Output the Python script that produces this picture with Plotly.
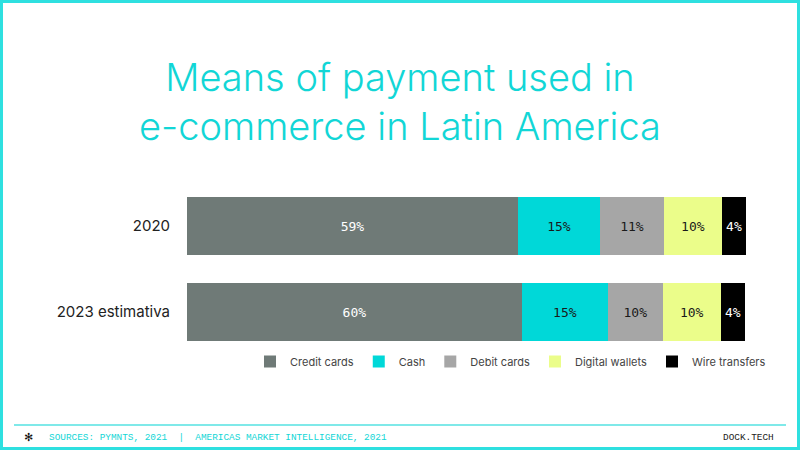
import plotly.graph_objects as go

categories = ["2020", "2023 estimativa"]
series_names = ["Credit cards", "Cash", "Debit cards", "Digital wallets", "Wire transfers"]
credit_cards = [59.2, 59.9]
cash = [14.7, 15.4]
debit_cards = [11.4, 9.8]
digital_wallets = [10.4, 10.4]
wire_transfers = [4.3, 4.3]
series_values = [credit_cards, cash, debit_cards, digital_wallets, wire_transfers]

colors = ["#6f7a77", "#00d8d8", "#a6a6a6", "#ebfd8a", "#000000"]
text_colors = ["#ffffff", "#1a1a1a", "#1a1a1a", "#1a1a1a", "#ffffff"]

W, H = 800, 450
L, R, T, B = 187, 54, 183, 95
PW, PH = W - L - R, H - T - B

def px(x):
    return (x - L) / PW

def py(y):
    return (H - B - y) / PH

fig = go.Figure()
for name, vals, c, tc in zip(series_names, series_values, colors, text_colors):
    fig.add_trace(go.Bar(
        y=categories, x=vals, name=name, orientation="h",
        marker=dict(color=c, line=dict(width=0)),
        texttemplate="%{x:.0f}%", textposition="inside", insidetextanchor="middle",
        textfont=dict(family="DejaVu Sans Mono", size=13, color=tc),
        constraintext="none", hoverinfo="skip",
    ))

CYAN = "#12d6d6"
fig.update_layout(
    width=W, height=H,
    margin=dict(l=L, r=R, t=T, b=B),
    paper_bgcolor="white", plot_bgcolor="white",
    barmode="stack", bargap=0.326,
    showlegend=True,
    legend=dict(orientation="h", x=px(250), xanchor="left", y=py(347), yanchor="top",
                font=dict(family="Inter", size=11, color="#444444"),
                traceorder="normal", itemclick=False),
    xaxis=dict(range=[0, sum(v[0] for v in series_values)], visible=False, fixedrange=True),
    yaxis=dict(autorange="reversed", showgrid=False, zeroline=False, showline=False,
               ticks="", ticklabelstandoff=16,
               tickfont=dict(family="Inter", size=15, color="#222222")),
    font=dict(family="Inter"),
)

fig.add_annotation(
    text="Means of payment used in<br>e-commerce in Latin America",
    xref="paper", yref="paper", x=px(400), y=py(101), xanchor="center", yanchor="middle",
    showarrow=False, align="center",
    font=dict(family="Inter", size=38, color=CYAN, weight=300),
)
fig.add_annotation(
    text="SOURCES: PYMNTS, 2021  |  AMERICAS MARKET INTELLIGENCE, 2021",
    xref="paper", yref="paper", x=px(47), y=py(437), xanchor="left", yanchor="middle",
    showarrow=False, font=dict(family="Liberation Mono", size=9.4, color=CYAN),
)
fig.add_annotation(
    text="DOCK.TECH",
    xref="paper", yref="paper", x=px(776), y=py(437), xanchor="right", yanchor="middle",
    showarrow=False, font=dict(family="Liberation Mono", size=9.4, color="#222222"),
)
fig.add_annotation(
    text="✻",
    xref="paper", yref="paper", x=px(28), y=py(437), xanchor="center", yanchor="middle",
    showarrow=False, font=dict(family="DejaVu Sans", size=11, color="#111111"),
)
fig.add_shape(type="rect", xref="paper", yref="paper",
              x0=px(1.5), x1=px(798.5), y0=py(1.5), y1=py(448.5),
              line=dict(color="#2ee0e0", width=3), fillcolor="rgba(0,0,0,0)", layer="above")
fig.add_shape(type="line", xref="paper", yref="paper",
              x0=px(14), x1=px(786), y0=py(425), y1=py(425),
              line=dict(color="#7fe9e9", width=2))

fig.write_html("out.html", config={"displayModeBar": False},
               post_script="document.body.style.margin='0';document.body.style.padding='0';")
